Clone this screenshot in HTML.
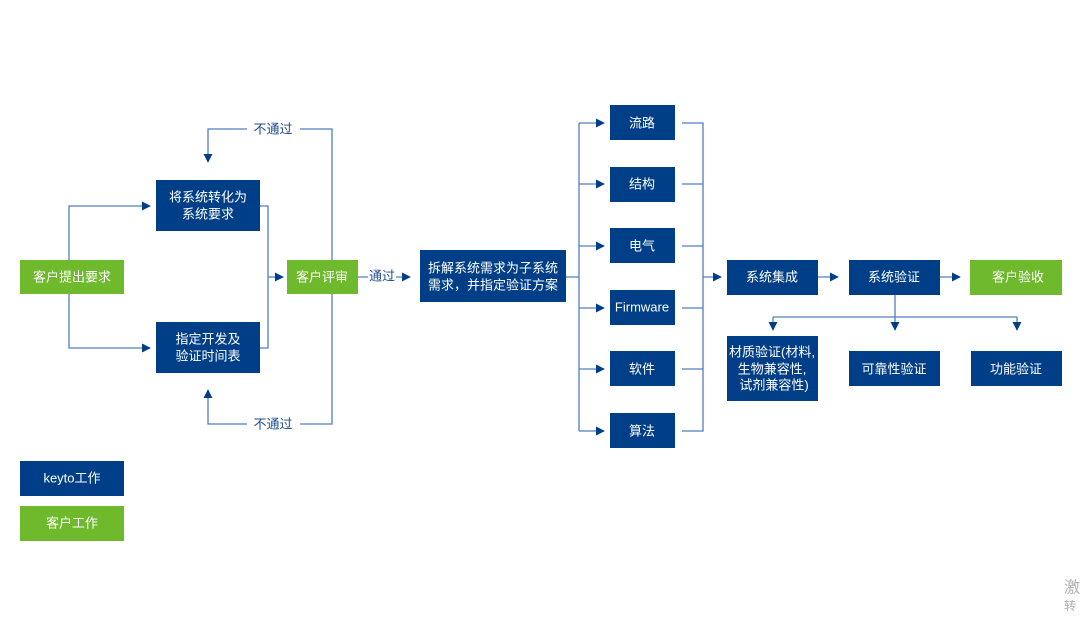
<!DOCTYPE html>
<html><head><meta charset="utf-8"><style>
html,body{margin:0;padding:0;background:#fff;}
svg{display:block;}
text{font-family:"Liberation Sans","Noto Sans CJK SC",sans-serif;font-size:13px;fill:#fff;text-anchor:middle;dominant-baseline:central;}
.l{fill:#1f4d8f;}
.b{fill:#003f87;}
.g{fill:#6fba2c;}
.ln{stroke:#4f7fc0;stroke-width:1.3;fill:none;}
</style></head><body>
<svg width="1080" height="633" viewBox="0 0 1080 633" xmlns="http://www.w3.org/2000/svg">
<defs><marker id="a" viewBox="0 0 10 10" refX="9" refY="5" markerWidth="7" markerHeight="7" orient="auto"><path d="M0,0L10,5L0,10z" fill="#003f87"/></marker></defs>
<path class="ln" d="M69,260V206H150" marker-end="url(#a)"/>
<path class="ln" d="M69,294V348H150" marker-end="url(#a)"/>
<path class="ln" d="M260,206H268V348H260"/>
<path class="ln" d="M268,277H283" marker-end="url(#a)"/>
<path class="ln" d="M332,260V129H300M247,129H208V162" marker-end="url(#a)"/>
<path class="ln" d="M332,294V424H300M247,424H208V390" marker-end="url(#a)"/>
<path class="ln" d="M358,277H368M396,277H410" marker-end="url(#a)"/>
<text class="l" x="273" y="129">不通过</text>
<text class="l" x="273" y="424">不通过</text>
<text class="l" x="382" y="276">通过</text>
<rect class="g" x="20" y="260" width="104" height="34"/><text x="72" y="277">客户提出要求</text>
<rect class="b" x="156" y="180" width="104" height="51"/><text x="208" y="197">将系统转化为</text><text x="208" y="214">系统要求</text>
<rect class="b" x="156" y="322" width="104" height="51"/><text x="208" y="339">指定开发及</text><text x="208" y="356">验证时间表</text>
<rect class="g" x="287" y="260" width="71" height="34"/><text x="322" y="277">客户评审</text>
<rect class="b" x="420" y="250" width="146" height="52"/><text x="493" y="268">拆解系统需求为子系统</text><text x="493" y="285">需求，并指定验证方案</text>
<path class="ln" d="M566,277H579M579,123V431"/>
<g class="ln">
<path d="M579,123H604" marker-end="url(#a)"/><path d="M579,184H604" marker-end="url(#a)"/><path d="M579,246H604" marker-end="url(#a)"/><path d="M579,308H604" marker-end="url(#a)"/><path d="M579,369H604" marker-end="url(#a)"/><path d="M579,431H604" marker-end="url(#a)"/>
<path d="M682,123H703V431H682M682,184H703M682,246H703M682,308H703M682,369H703"/>
<path d="M703,277H721" marker-end="url(#a)"/>
<path d="M818,277H838" marker-end="url(#a)"/>
<path d="M940,277H960" marker-end="url(#a)"/>
<path d="M895,295V317"/>
<path d="M773,317H1017"/>
<path d="M773,317V330" marker-end="url(#a)"/><path d="M895,317V330" marker-end="url(#a)"/><path d="M1017,317V330" marker-end="url(#a)"/>
</g>
<rect class="b" x="610" y="105" width="65" height="35"/><text x="642" y="123">流路</text>
<rect class="b" x="610" y="167" width="65" height="35"/><text x="642" y="184">结构</text>
<rect class="b" x="610" y="228" width="65" height="35"/><text x="642" y="246">电气</text>
<rect class="b" x="610" y="290" width="65" height="35"/><text x="642" y="307">Firmware</text>
<rect class="b" x="610" y="351" width="65" height="35"/><text x="642" y="369">软件</text>
<rect class="b" x="610" y="413" width="65" height="35"/><text x="642" y="431">算法</text>
<rect class="b" x="727" y="260" width="91" height="35"/><text x="772" y="277">系统集成</text>
<rect class="b" x="849" y="260" width="91" height="35"/><text x="894" y="277">系统验证</text>
<rect class="g" x="970" y="260" width="92" height="35"/><text x="1018" y="277">客户验收</text>
<rect class="b" x="727" y="336" width="91" height="65"/><text x="772" y="352">材质验证(材料,</text><text x="772" y="369">生物兼容性,</text><text x="774" y="385">试剂兼容性)</text>
<rect class="b" x="849" y="351" width="91" height="35"/><text x="894" y="369">可靠性验证</text>
<rect class="b" x="971" y="351" width="91" height="35"/><text x="1016" y="369">功能验证</text>
<rect class="b" x="20" y="461" width="104" height="35"/><text x="72" y="478">keyto工作</text>
<rect class="g" x="20" y="506" width="104" height="35"/><text x="72" y="523">客户工作</text>
<text x="1064" y="588" style="fill:#b0b0b0;font-size:16px;text-anchor:start">激</text>
<text x="1064" y="606" style="fill:#b0b0b0;font-size:12px;text-anchor:start">转</text>
</svg>
</body></html>
